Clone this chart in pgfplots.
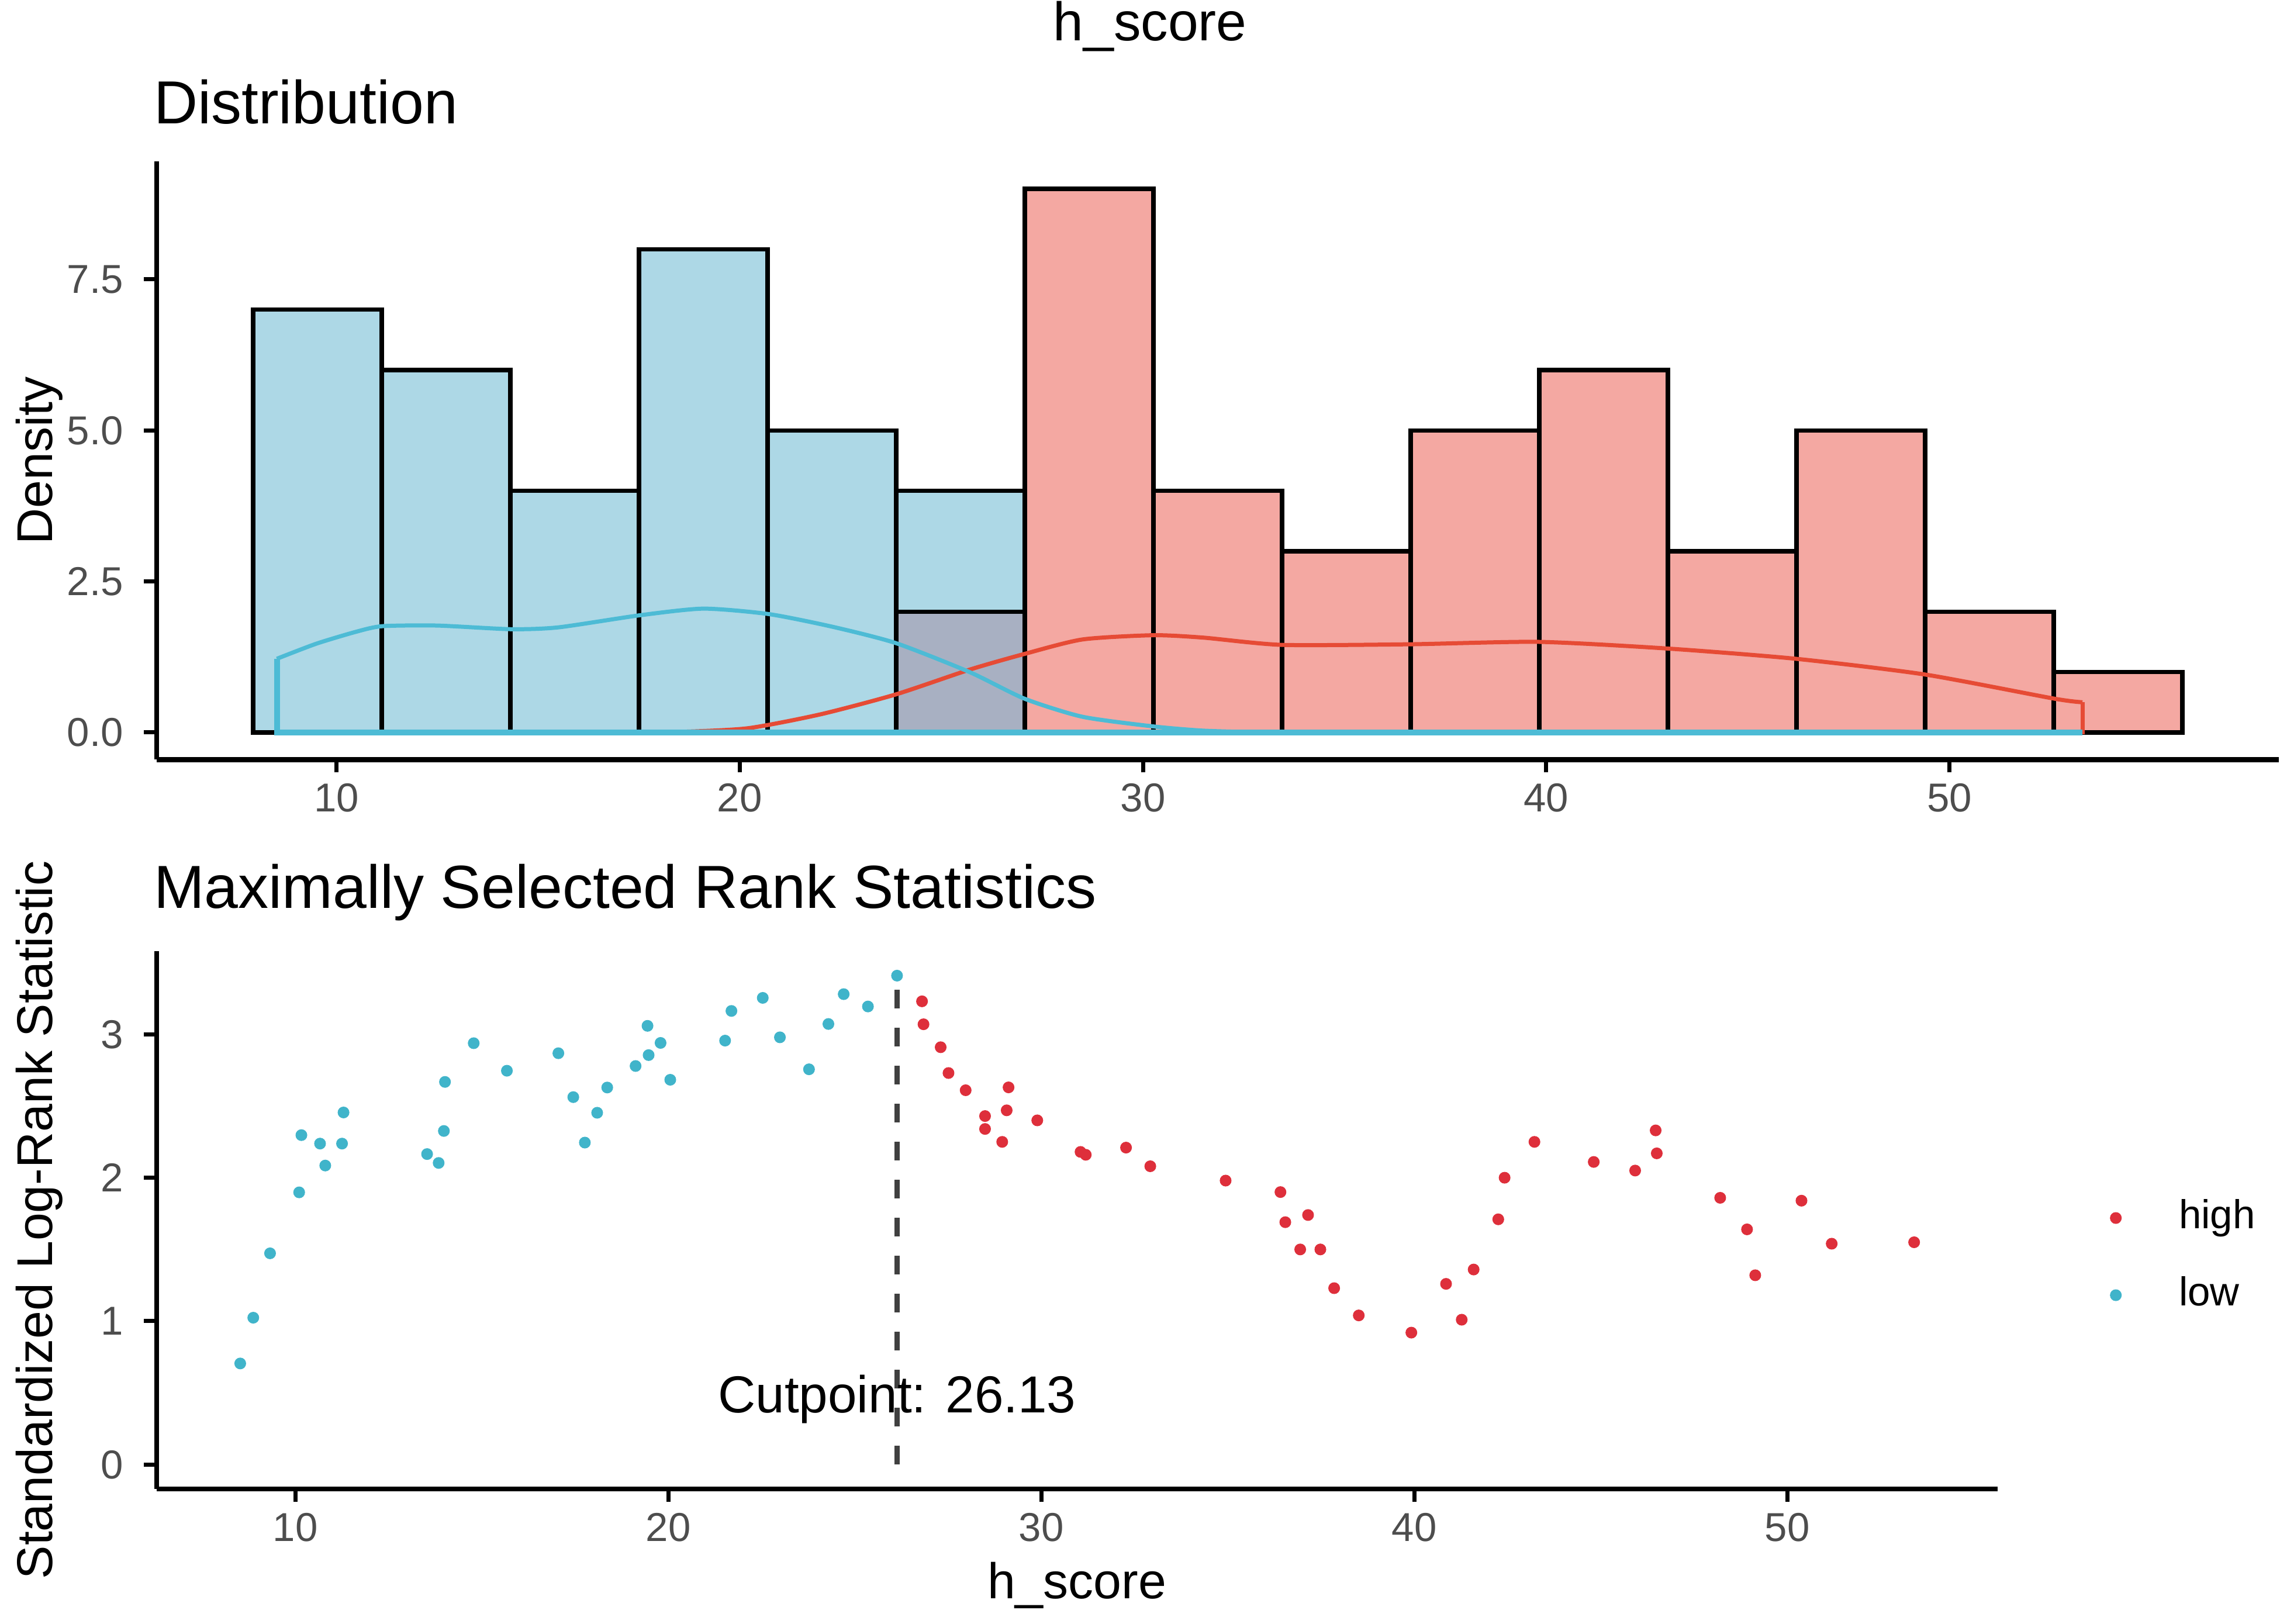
\documentclass[border=0pt]{standalone}
\usepackage{fontspec}
\setmainfont{Liberation Sans}
\usepackage{pgfplots}
\pgfplotsset{compat=1.18}
\definecolor{lowfill}{HTML}{ADD8E6}
\definecolor{highfill}{HTML}{F4A8A2}
\definecolor{ovfill}{HTML}{A8B0C2}
\definecolor{lowline}{HTML}{4DBBD5}
\definecolor{highline}{HTML}{E64B35}
\definecolor{lowpt}{HTML}{40B4CA}
\definecolor{highpt}{HTML}{DE2F3B}
\definecolor{tickgray}{HTML}{4D4D4D}
\pgfplotsset{classic/.style={
  scale only axis, axis lines=left,
  axis line style={-, line width=0.85pt, black},
  tick align=outside, major tick length=2.2pt,
  tick style={black, line width=0.7pt},
  tick label style={font=\fontsize{6.9}{8}\selectfont, text=tickgray},
  xticklabel style={yshift=1.6pt},
  /pgf/number format/assume math mode=true,
  anchor=south west,
}}
\begin{document}
\begin{tikzpicture}
\path[use as bounding box] (0,0) rectangle (390pt,277.8pt);
% ---------- top panel ----------
\begin{axis}[classic, at={(26.8pt,147.85pt)}, width=363pt, height=102.3pt,
  xmin=5.54, xmax=58.17, ymin=-0.45, ymax=9.45,
  xtick={10,20,30,40,50}, ytick={0,2.5,5,7.5},
  yticklabel style={/pgf/number format/.cd, fixed, fixed zerofill, precision=1}]
\addplot[ybar interval, fill=lowfill, draw=black, line width=0.75pt] coordinates {(7.93,7) (11.12,6) (14.31,4) (17.50,8) (20.69,5) (23.88,4) (27.07,0)};
\addplot[ybar interval, fill=ovfill, draw=black, line width=0.75pt] coordinates {(23.88,2) (27.07,0)};
\addplot[ybar interval, fill=highfill, draw=black, line width=0.75pt] coordinates {(27.07,9) (30.26,4) (33.45,3) (36.64,5) (39.83,6) (43.02,3) (46.21,5) (49.40,2) (52.59,1) (55.78,0)};
% density high
\addplot[highline, line width=0.7pt, smooth, tension=0.4] coordinates {(17,0) (18.5,0.01) (20.2,0.07) (22,0.3) (23.87,0.63) (25.7,1.04) (27.06,1.30) (28.5,1.54) (30.26,1.61) (31.5,1.57) (33.45,1.45) (36.62,1.46) (39.81,1.50) (43.0,1.39) (46.19,1.22) (49.39,0.96) (52.6,0.56) (53.3,0.50)};
\addplot[highline, line width=0.7pt] coordinates {(53.3,0.50) (53.3,0) (8.52,0)};
% density low
\addplot[lowline, line width=1.0pt] coordinates {(53.3,0) (8.52,0) (8.52,1.22)};
\addplot[lowline, line width=0.7pt, smooth, tension=0.4] coordinates {(8.52,1.22) (9.5,1.47) (10.5,1.67) (11.14,1.76) (12.5,1.77) (14.32,1.71) (15.5,1.74) (17.52,1.94) (19.1,2.05) (20.72,1.96) (22.3,1.75) (23.87,1.48) (25.7,1.0) (27.06,0.56) (28.5,0.26) (30.26,0.10) (31.5,0.03) (33,0)};
\end{axis}
% ---------- bottom panel ----------
\begin{axis}[classic, at={(26.8pt,23.1pt)}, width=314.9pt, height=92pt,
  xmin=6.28, xmax=55.64, ymin=-0.17, ymax=3.58,
  xtick={10,20,30,40,50}, ytick={0,1,2,3},
  legend style={at={(1.061,0.432)}, anchor=west, draw=none, fill=none, inner sep=0pt,
    row sep=2.1pt, column sep=7.7pt, font=\fontsize{6.9}{8}\selectfont,
    nodes={inner sep=2.3pt, text height=5pt, text depth=1.5pt}},
  legend cell align=left,
  legend image code/.code={\draw[mark repeat=2,mark phase=2,#1] plot coordinates {(0cm,0cm) (0.15cm,0cm) (0.3cm,0cm)};}]
\addplot[only marks, mark=*, mark size=0.8pt, color=highpt] coordinates {
(26.80,3.23) (26.84,3.07) (27.30,2.91) (27.51,2.73) (27.97,2.61) (28.49,2.43) (28.49,2.34) (28.95,2.25) (29.07,2.47) (29.12,2.63)
(29.89,2.40) (31.05,2.18) (31.19,2.16) (32.27,2.21) (32.92,2.08) (34.94,1.98) (36.41,1.90) (36.54,1.69) (37.15,1.74) (36.94,1.50)
(37.48,1.50) (37.85,1.23) (38.51,1.04) (39.92,0.92) (40.85,1.26) (41.27,1.01) (41.59,1.36) (42.25,1.71) (42.42,2.00) (43.22,2.25)
(44.81,2.11) (45.92,2.05) (46.47,2.33) (46.50,2.17) (48.20,1.86) (48.92,1.64) (49.14,1.32) (50.38,1.84) (51.19,1.54) (53.40,1.55)};
\addlegendentry{high}
\addplot[only marks, mark=*, mark size=0.8pt, color=lowpt] coordinates {
(8.52,0.705) (8.87,1.024) (9.32,1.473) (10.10,1.898) (10.16,2.297) (10.66,2.238) (10.80,2.085) (11.25,2.238) (11.29,2.455) (13.53,2.165)
(13.84,2.103) (13.98,2.326) (14.01,2.668) (14.78,2.938) (15.67,2.746) (17.05,2.868) (17.45,2.562) (17.76,2.245) (18.09,2.453) (18.36,2.629)
(19.12,2.779) (19.47,2.855) (19.44,3.059) (19.79,2.940) (20.05,2.683) (21.52,2.956) (21.69,3.163) (22.53,3.254) (22.99,2.979) (23.77,2.756)
(24.29,3.072) (24.70,3.280) (25.35,3.194) (26.13,3.409)};
\addlegendentry{low}
\addplot[black!75, line width=0.9pt, dash pattern=on 3.2pt off 3.3pt, forget plot] coordinates {(26.13,0) (26.13,3.41)};
\node[font=\fontsize{8.9}{10}\selectfont, anchor=base, inner sep=0pt] at (axis cs:26.13,0.36) {Cutpoint: 26.13};
\end{axis}
% ---------- titles and labels ----------
\node[anchor=base, inner sep=0pt, font=\fontsize{9.3}{11}\selectfont] at (196.7pt,270.8pt) {h\_score};
\node[anchor=base west, inner sep=0pt, font=\fontsize{10.4}{12}\selectfont] at (26.1pt,256.6pt) {Distribution};
\node[anchor=base west, inner sep=0pt, font=\fontsize{10.4}{12}\selectfont] at (26.1pt,122.4pt) {Maximally Selected Rank Statistics};
\node[rotate=90, anchor=base, inner sep=0pt, font=\fontsize{8.6}{10}\selectfont] at (9.0pt,199.0pt) {Density};
\node[rotate=90, anchor=base, inner sep=0pt, font=\fontsize{8.6}{10}\selectfont] at (9.0pt,69.1pt) {Standardized Log-Rank Statistic};
\node[anchor=base, inner sep=0pt, font=\fontsize{8.6}{10}\selectfont] at (184.2pt,4.3pt) {h\_score};
\end{tikzpicture}
\end{document}
